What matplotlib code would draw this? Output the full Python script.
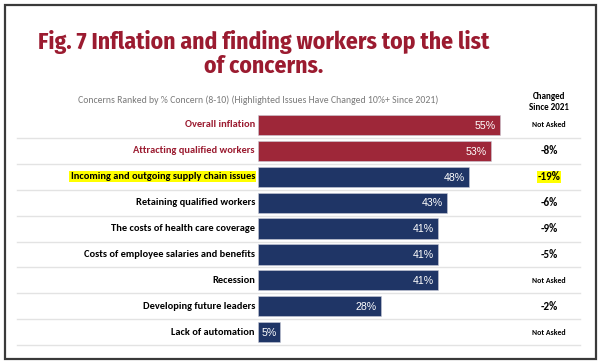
import matplotlib
matplotlib.use("Agg")
import matplotlib.pyplot as plt
from matplotlib.patches import Rectangle

categories = [
    "Overall inflation",
    "Attracting qualified workers",
    "Incoming and outgoing supply chain issues",
    "Retaining qualified workers",
    "The costs of health care coverage",
    "Costs of employee salaries and benefits",
    "Recession",
    "Developing future leaders",
    "Lack of automation",
]
values = [55, 53, 48, 43, 41, 41, 41, 28, 5]
changes = ["Not Asked", "-8%", "-19%", "-6%", "-9%", "-5%", "Not Asked", "-2%", "Not Asked"]
highlighted = [False, False, True, False, False, False, False, False, False]
top_two = [True, True, False, False, False, False, False, False, False]

title = "Fig. 7 Inflation and finding workers top the list\nof concerns."
subtitle = "Concerns Ranked by % Concern (8-10) (Highlighted Issues Have Changed 10%+ Since 2021)"
col_header = "Changed\nSince 2021"

RED = "#9e2739"
NAVY = "#1f3566"
TITLE_RED = "#9b1b30"
YELLOW = "#ffff00"

W, H = 600, 364
fig = plt.figure(figsize=(6, 3.64), dpi=100)
fig.patch.set_facecolor("white")

# outer border
fig.add_artist(Rectangle((4.5 / W, 1 - 358.5 / H), (596 - 4.5) / W, (358.5 - 4.5) / H,
                         transform=fig.transFigure, fill=False, edgecolor="#3a3a3a", lw=1.6))

x0_px = 258
ppx = 4.4
xmax = (585 - x0_px) / ppx
row_top = 112.0
row_h = 25.9
n = len(categories)
ax_bottom_px = row_top + n * row_h
ax = fig.add_axes([x0_px / W, 1 - ax_bottom_px / H, (585 - x0_px) / W, (ax_bottom_px - row_top) / H])
ax.set_xlim(0, xmax)
ax.set_ylim(n - 0.5, -0.5)
ax.axis("off")

ys = list(range(n))
colors = [RED if t else NAVY for t in top_two]
ax.barh(ys, values, height=0.78, color=colors, edgecolor="#c9cbd6", linewidth=0.4, zorder=3)

xl = (17 - x0_px) / ppx
xr = (580 - x0_px) / ppx
for i in range(n):
    ax.plot([xl, xr], [i + 0.5, i + 0.5], color="#e3e3e3", lw=1.0, zorder=1, clip_on=False)

LBL = ["Carlito", "DejaVu Sans"]
VAL = ["Liberation Sans", "DejaVu Sans"]
xc = (549 - x0_px) / ppx
for i, (cat, v, ch) in enumerate(zip(categories, values, changes)):
    color = TITLE_RED if top_two[i] else "black"
    bbox = dict(facecolor=YELLOW, edgecolor="none", pad=0.8) if highlighted[i] else None
    ax.text(-0.7, i, cat, ha="right", va="center", fontsize=7.5, fontweight="bold",
            color=color, family=LBL, bbox=bbox, zorder=4)
    if v >= 10:
        ax.text(v - 1.0, i + 0.03, f"{v}%", ha="right", va="center", fontsize=7.6,
                color="white", family=VAL, zorder=5)
    else:
        ax.text(v / 2, i + 0.03, f"{v}%", ha="center", va="center", fontsize=7.6,
                color="white", family=VAL, zorder=5)
    if ch == "Not Asked":
        ax.text(xc, i, ch, ha="center", va="center", fontsize=5.6, fontweight="bold",
                color="black", family=LBL, zorder=4)
    else:
        ax.text(xc, i, ch, ha="center", va="center", fontsize=8.0, fontweight="bold",
                color="black", family=LBL, zorder=4,
                bbox=dict(facecolor=YELLOW, edgecolor="none", pad=0.3) if highlighted[i] else None)

fig.text(264 / W, 1 - 54 / H, title, ha="center", va="center", fontsize=17,
         fontweight="bold", color=TITLE_RED, family=["Fira Sans Condensed", "DejaVu Sans"],
         linespacing=1.08)

fig.text(258 / W, 1 - 100.5 / H, subtitle, ha="center", va="center", fontsize=7.0,
         color="#7a7a7a", family=LBL)

fig.text(549 / W, 1 - 102 / H, col_header, ha="center", va="center", fontsize=6.5,
         fontweight="bold", color="black", family=LBL, linespacing=1.2)

fig.savefig("out.png", dpi=100, facecolor="white")
